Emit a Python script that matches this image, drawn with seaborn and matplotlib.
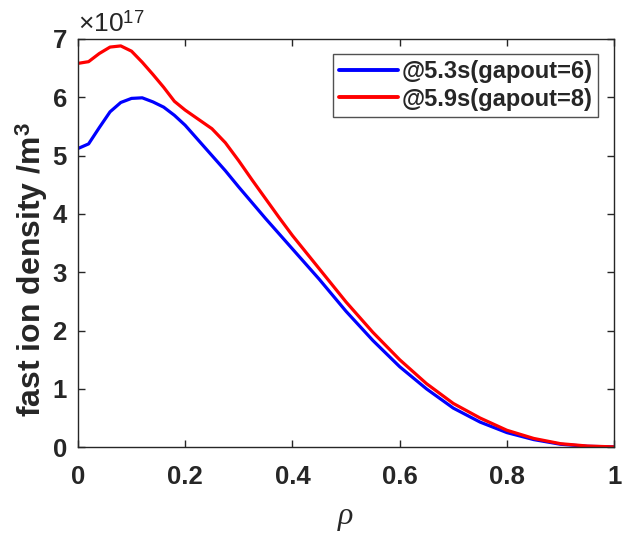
import numpy as np
import pandas as pd
import matplotlib
matplotlib.use("Agg")
import matplotlib.pyplot as plt
import seaborn as sns

# Normalised radius and fast-ion density profiles (units of 1e17 m^-3)
rho = [0.0, 0.02, 0.04, 0.06, 0.08, 0.1, 0.12, 0.14, 0.16, 0.18, 0.2, 0.225,
       0.25, 0.275, 0.3, 0.325, 0.35, 0.375, 0.4, 0.45, 0.5, 0.55, 0.6, 0.65,
       0.7, 0.75, 0.8, 0.85, 0.9, 0.95, 1.0]
density_53 = [5.12, 5.20, 5.48, 5.75, 5.91, 5.98, 5.99, 5.92, 5.83, 5.69, 5.52,
              5.26, 5.00, 4.74, 4.46, 4.19, 3.92, 3.66, 3.40, 2.88, 2.33, 1.83,
              1.38, 1.00, 0.67, 0.43, 0.25, 0.13, 0.05, 0.015, 0.005]
density_59 = [6.58, 6.61, 6.75, 6.86, 6.88, 6.79, 6.60, 6.39, 6.17, 5.93, 5.78,
              5.62, 5.46, 5.22, 4.91, 4.58, 4.26, 3.94, 3.63, 3.06, 2.49, 1.97,
              1.50, 1.09, 0.75, 0.50, 0.29, 0.15, 0.06, 0.02, 0.005]
labels = ["@5.3s(gapout=6)", "@5.9s(gapout=8)"]
colors = ["#0000ff", "#ff0000"]
xticks = [0, 0.2, 0.4, 0.6, 0.8, 1]
yticks = [0, 1, 2, 3, 4, 5, 6, 7]

sns.set_style("ticks")
plt.rcParams["font.family"] = ["Liberation Sans", "DejaVu Sans"]
plt.rcParams["mathtext.fontset"] = "custom"
plt.rcParams["mathtext.it"] = "Liberation Serif:italic"
plt.rcParams["mathtext.bf"] = "Liberation Sans:bold"
plt.rcParams["mathtext.rm"] = "Liberation Sans"

df = pd.DataFrame({
    "rho": rho * 2,
    "density": density_53 + density_59,
    "shot": [labels[0]] * len(rho) + [labels[1]] * len(rho),
})

fig = plt.figure(figsize=(6.28, 5.33), dpi=100)
ax = fig.add_axes([0.124, 0.161, 0.854, 0.766])

sns.lineplot(data=df, x="rho", y="density", hue="shot",
             palette=dict(zip(labels, colors)), linewidth=2.3, ax=ax)

ax.set_xlim(0, 1)
ax.set_ylim(0, 7)
ax.set_xticks(xticks)
ax.set_xticklabels([f"{t:g}" for t in xticks])
ax.set_yticks(yticks)
ax.set_yticklabels([str(t) for t in yticks])

for side in ["top", "right", "left", "bottom"]:
    ax.spines[side].set_visible(True)
    ax.spines[side].set_linewidth(1.0)
    ax.spines[side].set_color("#262626")

ax.tick_params(direction="in", length=5, width=1, top=True, right=True,
               labelsize=18.5, colors="#262626")
ax.tick_params(axis="x", pad=13)
ax.tick_params(axis="y", pad=8)
for lab in ax.get_xticklabels() + ax.get_yticklabels():
    lab.set_fontweight("bold")
    lab.set_color("#262626")

ax.set_ylabel("fast ion density /m$^\\mathbf{3}$", fontsize=23,
              fontweight="bold", color="#262626")
ax.yaxis.set_label_coords(-0.052, 0.435)
ax.set_xlabel(r"$\rho$", fontsize=23, color="#262626", labelpad=10)

# scale factor above the y axis
ax.text(0.0, 1.017, "×10$^{\\mathrm{17}}$", transform=ax.transAxes,
        fontsize=19, color="#262626", ha="left", va="baseline")

leg = ax.legend(loc="upper right", bbox_to_anchor=(0.97, 0.963),
                fontsize=17, frameon=True, fancybox=False, handlelength=2.5,
                handletextpad=0.15, borderpad=0.25, labelspacing=0.2,
                borderaxespad=0)
leg.get_frame().set_edgecolor("#262626")
leg.get_frame().set_linewidth(1.0)
for t in leg.get_texts():
    t.set_fontweight("bold")
    t.set_color("#262626")
for h in leg.get_lines():
    h.set_linewidth(2.8)

fig.savefig("out.png", dpi=100)
